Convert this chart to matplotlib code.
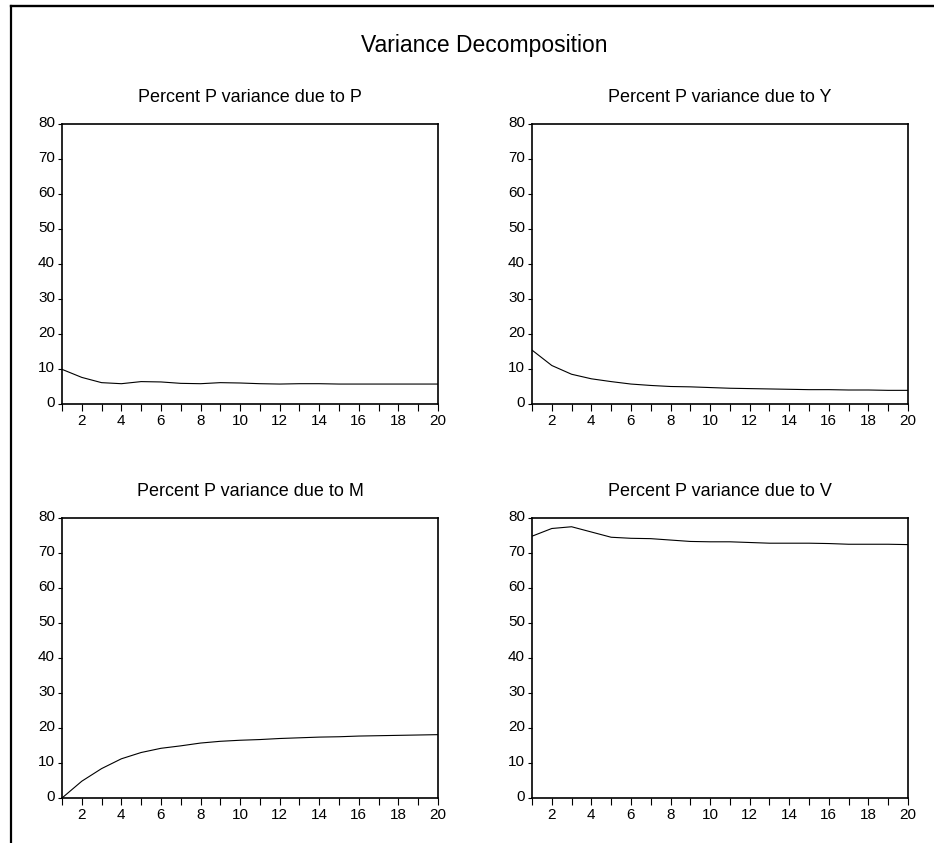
import matplotlib
matplotlib.use("Agg")
import matplotlib.pyplot as plt
from matplotlib.lines import Line2D
from matplotlib.transforms import ScaledTranslation

plt.rcParams['font.family'] = ['Liberation Sans', 'DejaVu Sans']

periods = list(range(1, 21))
due_to_P = [9.9, 7.6, 6.1, 5.8, 6.4, 6.3, 5.9, 5.8, 6.1, 6.0,
            5.8, 5.7, 5.8, 5.8, 5.7, 5.7, 5.7, 5.7, 5.7, 5.7]
due_to_Y = [15.4, 11.0, 8.5, 7.2, 6.4, 5.7, 5.3, 5.0, 4.9, 4.7,
            4.5, 4.4, 4.3, 4.2, 4.1, 4.1, 4.0, 4.0, 3.9, 3.9]
due_to_M = [0.0, 4.8, 8.4, 11.2, 13.0, 14.2, 14.9, 15.7, 16.2, 16.5,
            16.7, 17.0, 17.2, 17.4, 17.5, 17.7, 17.8, 17.9, 18.0, 18.1]
due_to_V = [74.8, 77.0, 77.5, 76.0, 74.5, 74.2, 74.1, 73.7, 73.3, 73.2,
            73.2, 73.0, 72.8, 72.8, 72.8, 72.7, 72.5, 72.5, 72.5, 72.4]

titles = ["Percent P variance due to P", "Percent P variance due to Y",
          "Percent P variance due to M", "Percent P variance due to V"]
series = [due_to_P, due_to_Y, due_to_M, due_to_V]
main_title = "Variance Decomposition"
yticks = [0, 10, 20, 30, 40, 50, 60, 70, 80]

W, H = 934, 843
fig = plt.figure(figsize=(W / 100, H / 100), dpi=100)

# axes boxes in pixels: left, top, right, bottom
boxes = [(62, 124, 438, 404), (532, 124, 908, 404),
         (62, 518, 438, 798), (532, 518, 908, 798)]

for (l, t, r, b), title, vals in zip(boxes, titles, series):
    ax = fig.add_axes([l / W, 1 - b / H, (r - l) / W, (b - t) / H])
    ax.plot(periods, vals, color='black', lw=0.8)
    ax.set_xlim(1, 20)
    ax.set_ylim(0, 80)
    ax.set_yticks(yticks)
    ax.set_xticks(periods)
    ax.set_xticklabels(['' if p % 2 else str(p) for p in periods])
    for s in ax.spines.values():
        s.set_linewidth(1.2)
        s.set_color('black')
    ax.tick_params(axis='y', direction='out', length=3, width=0.8,
                   labelsize=11, pad=2, colors='black')
    ax.tick_params(axis='x', direction='out', length=5, width=0.8,
                   labelsize=11, pad=2, colors='black')
    shift = ScaledTranslation(0, 2.5 / 100, fig.dpi_scale_trans)
    for lab in ax.get_yticklabels():
        lab.set_transform(lab.get_transform() + shift)
    fig.text((l + r) / 2 / W, 1 - (t - 22.5) / H, title, ha='center',
             va='baseline', fontsize=13)

fig.text(484 / W, 1 - 51.7 / H, main_title, ha='center', va='baseline',
         fontsize=16.5)

# outer frame (left and top borders)
fig.add_artist(Line2D([11 / W, 11 / W], [0, 1 - 6 / H], color='black',
                      lw=1.6, transform=fig.transFigure))
fig.add_artist(Line2D([11 / W, 1], [1 - 6 / H, 1 - 6 / H], color='black',
                      lw=1.7, transform=fig.transFigure))

fig.savefig("out.png", dpi=100)
